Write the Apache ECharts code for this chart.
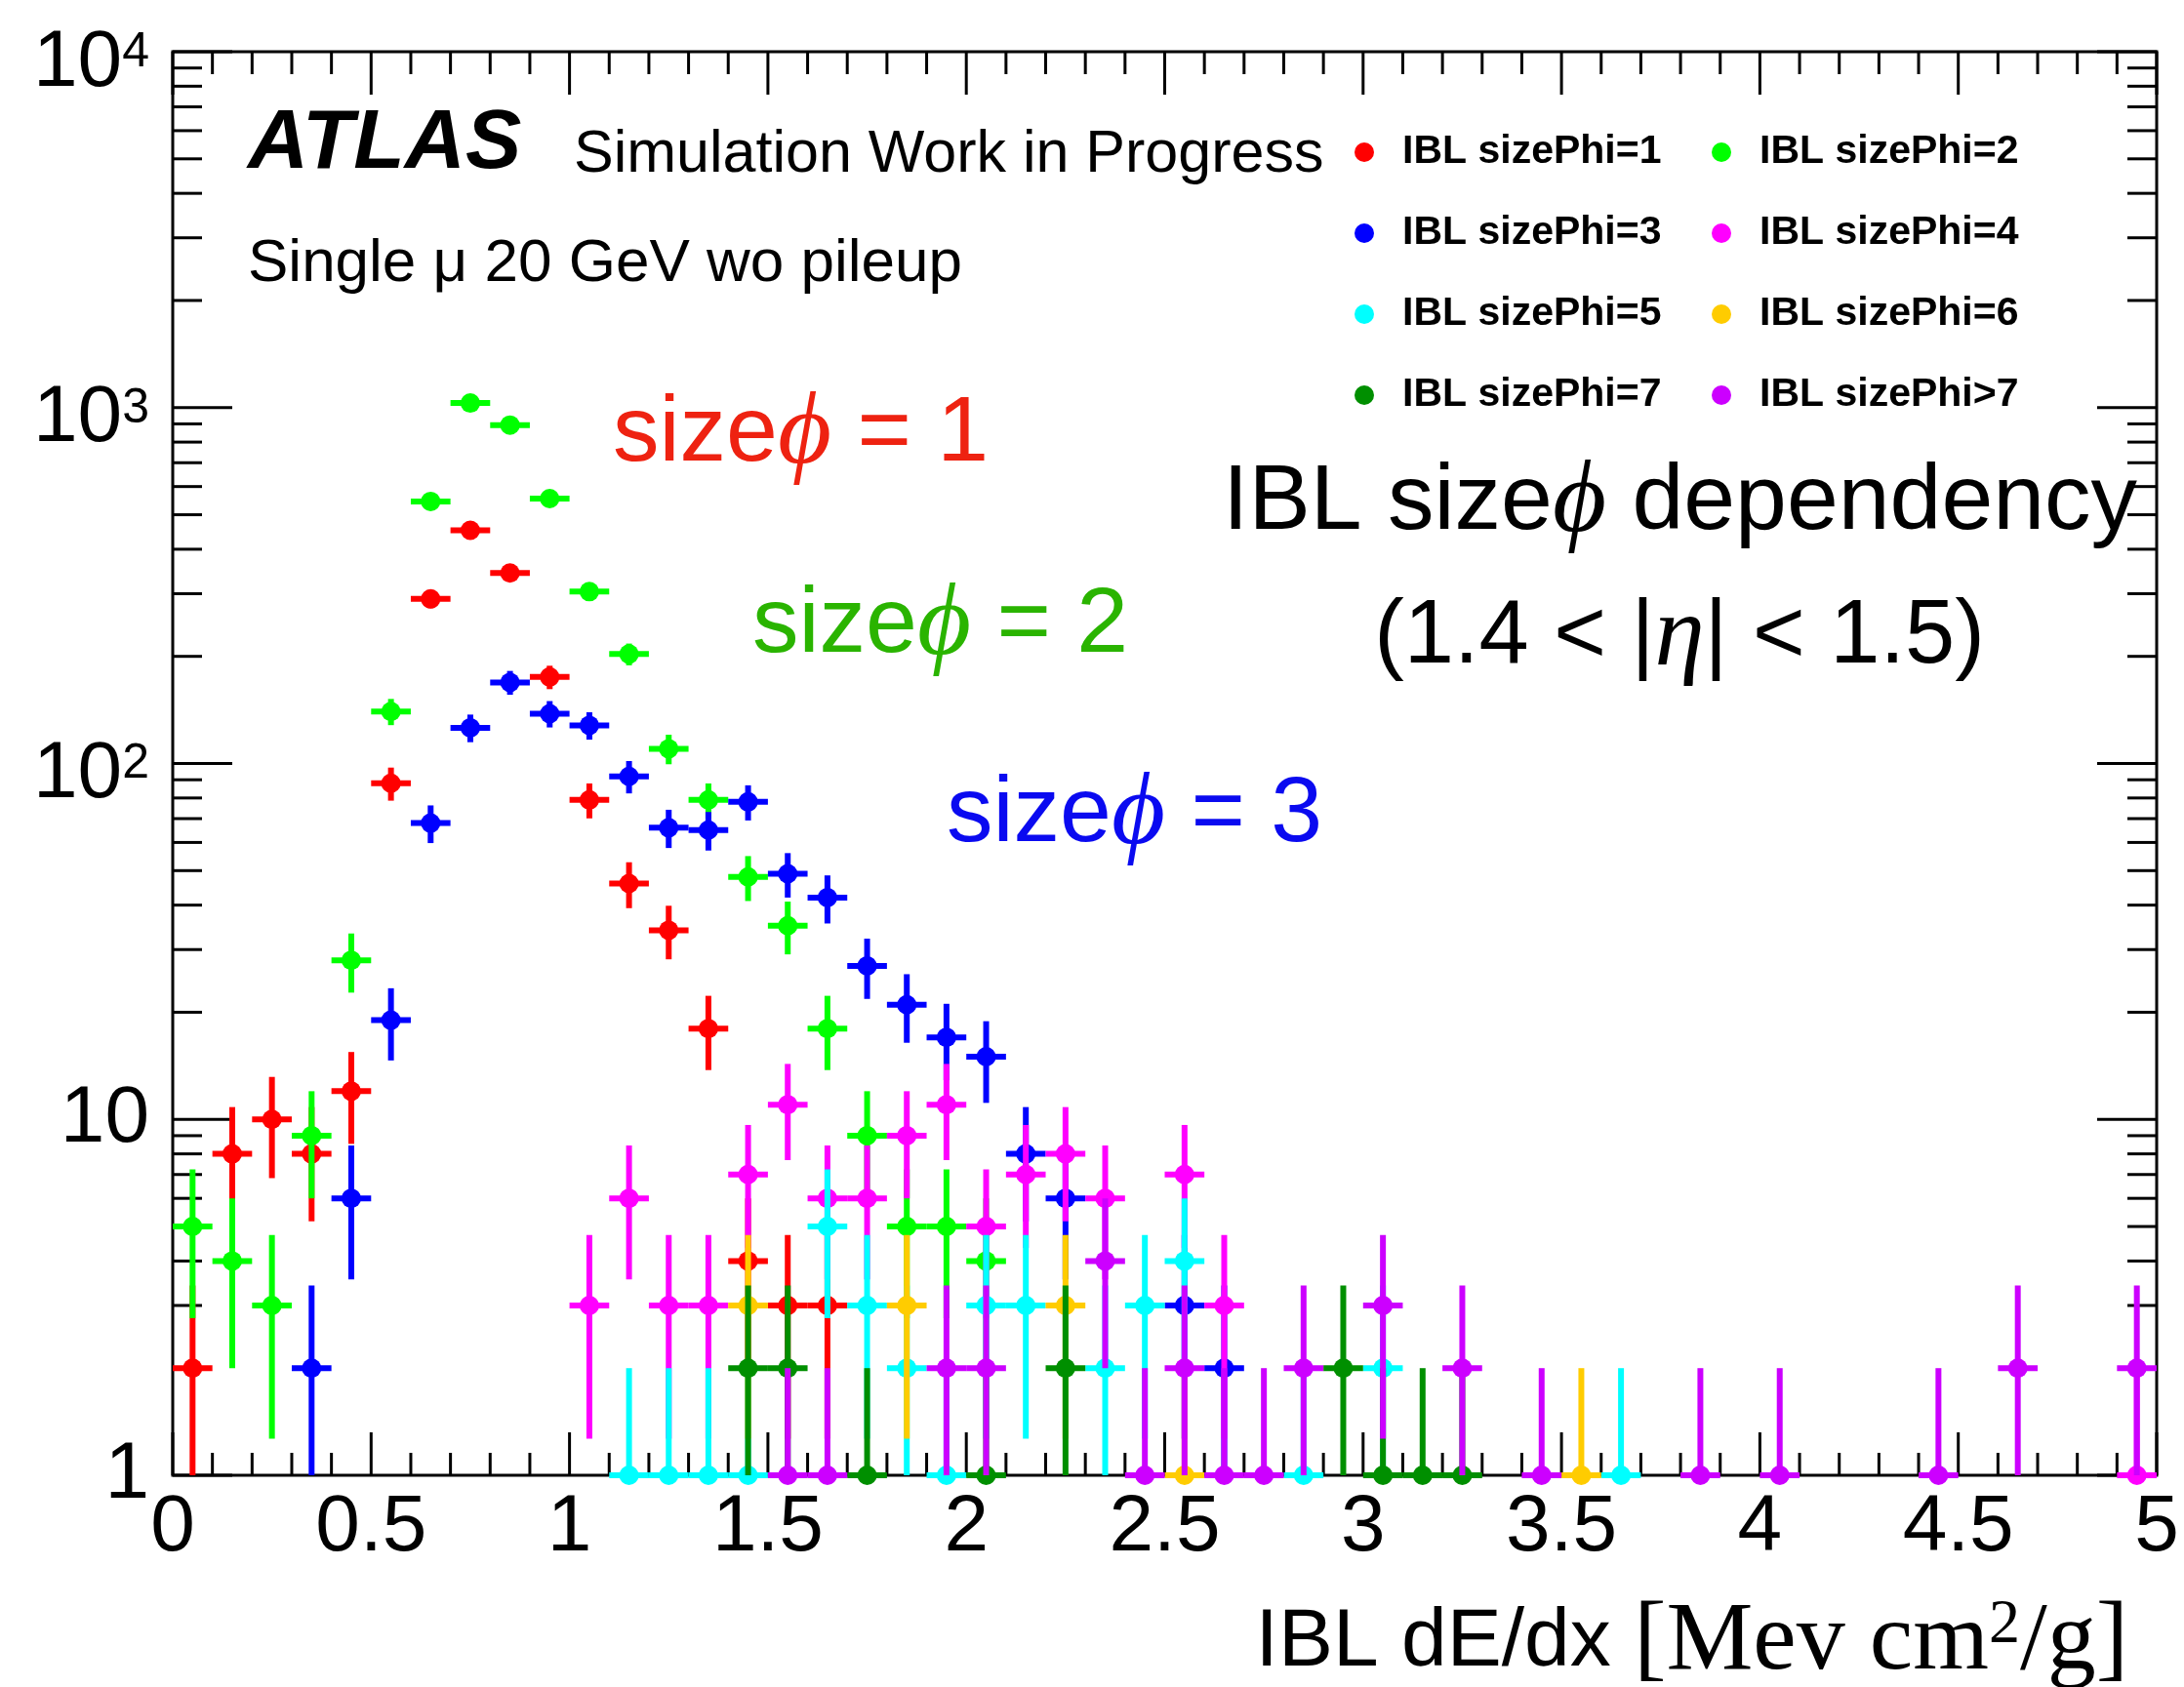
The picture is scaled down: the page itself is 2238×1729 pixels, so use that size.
<!DOCTYPE html>
<html>
<head>
<meta charset="utf-8">
<script src="https://cdn.jsdelivr.net/npm/echarts@6/dist/echarts.min.js"></script>
<style>
html,body{margin:0;padding:0;background:#fff;}
#chart{width:2238px;height:1729px;}
</style>
</head>
<body>
<div id="chart"></div>
<script>
const SANS = "'Liberation Sans', Arial, Helvetica, sans-serif";
const SERIF = "'Liberation Serif', 'DejaVu Serif', 'Times New Roman', serif";

// ---- data (bin centres in dE/dx, entries per bin) ----
const seriesNames = ['IBL sizePhi=1','IBL sizePhi=2','IBL sizePhi=3','IBL sizePhi=4',
                     'IBL sizePhi=5','IBL sizePhi=6','IBL sizePhi=7','IBL sizePhi>7'];
const seriesColors = ['#ff0000','#00ff00','#0000ff','#ff00ff','#00ffff','#ffcc00','#008f00','#cc00ff'];

const x_phi1 = [0.05,0.15,0.25,0.35,0.45,0.55,0.65,0.75,0.85,0.95,1.05,1.15,1.25,1.35,1.45,1.55,1.65];
const n_phi1 = [2,8,10,8,12,88,290,452,343,175,79,46,34,18,4,3,3];

const x_phi2 = [0.05,0.15,0.25,0.35,0.45,0.55,0.65,0.75,0.85,0.95,1.05,1.15,1.25,1.35,1.45,1.55,1.65,1.75,1.85,1.95,2.05];
const n_phi2 = [5,4,3,9,28,140,545,1030,893,555,304,203,110,79,48,35,18,9,5,5,4];

const x_phi3 = [0.35,0.45,0.55,0.65,0.75,0.85,0.95,1.05,1.15,1.25,1.35,1.45,1.55,1.65,1.75,1.85,1.95,2.05,2.15,2.25,2.55,2.65];
const n_phi3 = [2,6,19,68,126,169,138,128,92,66,65,78,49,42,27,21,17,15,8,6,3,2];

const x_phi4 = [1.05,1.15,1.25,1.35,1.45,1.55,1.65,1.75,1.85,1.95,2.05,2.15,2.25,2.35,2.55,2.65,4.95];
const n_phi4 = [3,6,3,3,7,11,6,6,9,11,5,7,8,6,7,3,1];

const x_phi5 = [1.15,1.25,1.35,1.45,1.65,1.75,1.85,1.95,2.05,2.15,2.35,2.45,2.55,2.85,3.05,3.65];
const n_phi5 = [1,1,1,1,5,3,2,1,3,3,2,3,4,1,2,1];

const x_phi6 = [1.45,1.85,2.25,2.55,3.55];
const n_phi6 = [3,3,3,1,1];

const x_phi7 = [1.45,1.55,1.75,2.05,2.25,2.95,3.05,3.15,3.25];
const n_phi7 = [2,2,1,1,2,2,1,1,1];

const x_phi8 = [1.55,1.65,1.95,2.05,2.35,2.45,2.55,2.65,2.75,2.85,3.05,3.25,3.45,3.85,4.05,4.45,4.65,4.95];
const n_phi8 = [1,1,2,2,4,1,2,1,1,2,3,2,1,1,1,1,2,2];

const seriesX = [x_phi1,x_phi2,x_phi3,x_phi4,x_phi5,x_phi6,x_phi7,x_phi8];
const seriesN = [n_phi1,n_phi2,n_phi3,n_phi4,n_phi5,n_phi6,n_phi7,n_phi8];

// ---- axes ----
const X_MIN = 0, X_MAX = 5, X_INTERVAL = 0.5;
const Y_MIN = 1, Y_MAX = 10000;
const BIN_WIDTH = 0.1;
const xMajorTicks = [0,0.5,1,1.5,2,2.5,3,3.5,4,4.5,5];
const yMajorTicks = [1,10,100,1000,10000];
const yTickLabels = ['1','10','{b|10}{s|2}','{b|10}{s|3}','{b|10}{s|4}'];
const xMinorTicks = [];
for (let i = 1; i < 50; i++) { if (i % 5 !== 0) xMinorTicks.push(i / 10); }
const yMinorTicks = [];
for (let d = 0; d < 4; d++) { for (let m = 2; m <= 9; m++) yMinorTicks.push(m * Math.pow(10, d)); }

const tickData = []
  .concat(xMajorTicks.map(v => [v, Y_MIN, 0]))
  .concat(xMinorTicks.map(v => [v, Y_MIN, 1]))
  .concat(yMajorTicks.map(v => [X_MIN, v, 2]))
  .concat(yMinorTicks.map(v => [X_MIN, v, 3]));

function renderTick(params, api) {
  const kind = api.value(2);
  const cs = params.coordSys;
  const st = {stroke: '#000', lineWidth: 3};
  if (kind < 2) {
    const p = api.coord([api.value(0), Y_MIN]);
    const len = kind === 0 ? 44 : 23;
    const yb = cs.y + cs.height, yt = cs.y;
    return {type: 'group', children: [
      {type: 'line', shape: {x1: p[0], y1: yb, x2: p[0], y2: yb - len}, style: st},
      {type: 'line', shape: {x1: p[0], y1: yt, x2: p[0], y2: yt + len}, style: st}
    ]};
  } else {
    const p = api.coord([X_MIN, api.value(1)]);
    const len = kind === 2 ? 61 : 30;
    const xl = cs.x, xr = cs.x + cs.width;
    return {type: 'group', children: [
      {type: 'line', shape: {x1: xl, y1: p[1], x2: xl + len, y2: p[1]}, style: st},
      {type: 'line', shape: {x1: xr, y1: p[1], x2: xr - len, y2: p[1]}, style: st}
    ]};
  }
}

function renderErr(params, api) {
  const x = api.value(0), y = api.value(1);
  const e = Math.sqrt(y);
  const lo = Math.max(y - e, Y_MIN);
  const hi = y + e;
  const c = api.coord([x, y]);
  const pLo = api.coord([x, lo]);
  const pHi = api.coord([x, hi]);
  const pL = api.coord([x - BIN_WIDTH / 2, y]);
  const pR = api.coord([x + BIN_WIDTH / 2, y]);
  const color = api.visual('color');
  return {type: 'group', children: [
    {type: 'line', shape: {x1: pLo[0], y1: pLo[1], x2: pHi[0], y2: pHi[1]}, style: {stroke: color, lineWidth: 6}},
    {type: 'line', shape: {x1: pL[0], y1: c[1], x2: pR[0], y2: c[1]}, style: {stroke: color, lineWidth: 6}},
    {type: 'circle', shape: {cx: c[0], cy: c[1], r: 10}, style: {fill: color}}
  ]};
}

const dataSeries = seriesNames.map((name, i) => ({
  type: 'custom',
  name: name,
  renderItem: renderErr,
  itemStyle: {color: seriesColors[i]},
  encode: {x: 0, y: 1},
  data: seriesX[i].map((x, j) => [x, seriesN[i][j]]),
  z: 3
}));

const legendBase = {
  orient: 'vertical', icon: 'circle', itemWidth: 68, itemHeight: 20, itemGap: 39,
  top: 129, selectedMode: false,
  textStyle: {fontSize: 41, fontWeight: 'bold', fontFamily: SANS, color: '#000', lineHeight: 44}
};

const annoRich = (fs, color) => ({
  a: {fontSize: fs, fontFamily: SANS, fill: color},
  p: {fontSize: fs * 1.12, fontFamily: SERIF, fontStyle: 'italic', fill: color}
});

const chart = echarts.init(document.getElementById('chart'));
chart.setOption({
  animation: false,
  backgroundColor: '#fff',
  grid: {left: 177, right: 28, top: 53, bottom: 217, show: true, borderColor: '#000', borderWidth: 3},
  xAxis: {
    type: 'value', min: X_MIN, max: X_MAX, interval: X_INTERVAL,
    axisLine: {show: false}, axisTick: {show: false}, splitLine: {show: false},
    axisLabel: {fontSize: 82, fontFamily: SANS, color: '#000', margin: 13,
      formatter: v => String(v)}
  },
  yAxis: {
    type: 'log', logBase: 10, min: Y_MIN, max: Y_MAX,
    axisLine: {show: false}, axisTick: {show: false}, splitLine: {show: false},
    axisLabel: {fontSize: 82, fontFamily: SANS, color: '#000', margin: 24,
      formatter: v => yTickLabels[Math.round(Math.log10(v))],
      rich: {
        b: {fontSize: 82, fontFamily: SANS, color: '#000', padding: [24, 0, 0, 0], verticalAlign: 'bottom'},
        s: {fontSize: 50, fontFamily: SANS, color: '#000', verticalAlign: 'top', padding: [29, 0, 0, 0]}
      }}
  },
  legend: [
    Object.assign({}, legendBase, {left: 1383, data: [seriesNames[0], seriesNames[2], seriesNames[4], seriesNames[6]]}),
    Object.assign({}, legendBase, {left: 1749, data: [seriesNames[1], seriesNames[3], seriesNames[5], seriesNames[7]]})
  ],
  graphic: [
    {type: 'text', x: 254, y: 148, style: {text: 'ATLAS', fontSize: 86, fontWeight: 'bold', fontStyle: 'italic',
      fontFamily: SANS, fill: '#000', verticalAlign: 'middle', align: 'left'}},
    {type: 'text', x: 588, y: 159, style: {text: 'Simulation Work in Progress', fontSize: 61,
      fontFamily: SANS, fill: '#000', verticalAlign: 'middle', align: 'left'}},
    {type: 'text', x: 254, y: 271, style: {text: 'Single \u03bc 20 GeV wo pileup', fontSize: 62,
      fontFamily: SANS, fill: '#000', verticalAlign: 'middle', align: 'left'}},
    {type: 'text', x: 628, y: 446, style: {text: '{a|size}{p|\u03d5}{a| = 1}', rich: annoRich(95, '#ee2211'),
      verticalAlign: 'middle', align: 'left'}},
    {type: 'text', x: 771, y: 642, style: {text: '{a|size}{p|\u03d5}{a| = 2}', rich: annoRich(95, '#2ab400'),
      verticalAlign: 'middle', align: 'left'}},
    {type: 'text', x: 970, y: 836, style: {text: '{a|size}{p|\u03d5}{a| = 3}', rich: annoRich(95, '#0a0af0'),
      verticalAlign: 'middle', align: 'left'}},
    {type: 'text', x: 1253, y: 516, style: {text: '{a|IBL size}{p|\u03d5}{a| dependency}', rich: annoRich(95, '#000'),
      verticalAlign: 'middle', align: 'left'}},
    {type: 'text', x: 1721, y: 654, style: {text: '{a|(1.4 < |}{p|\u03b7}{a|| < 1.5)}', rich: annoRich(92, '#000'),
      verticalAlign: 'middle', align: 'center'}},
    {type: 'text', x: 2181, y: 1684, style: {text: '{a|IBL dE/dx }{b|[Mev cm}{c|2}{b|/g]}',
      rich: {
        a: {fontSize: 84, fontFamily: SANS, fill: '#000'},
        b: {fontSize: 100, fontFamily: SERIF, fill: '#000'},
        c: {fontSize: 64, fontFamily: SERIF, fill: '#000', verticalAlign: 'top'}
      },
      verticalAlign: 'middle', align: 'right'}}
  ],
  series: [{
    type: 'custom', name: 'frameTicks', renderItem: renderTick, silent: true,
    encode: {x: 0, y: 1}, data: tickData, z: 2
  }].concat(dataSeries)
});
</script>
</body>
</html>
